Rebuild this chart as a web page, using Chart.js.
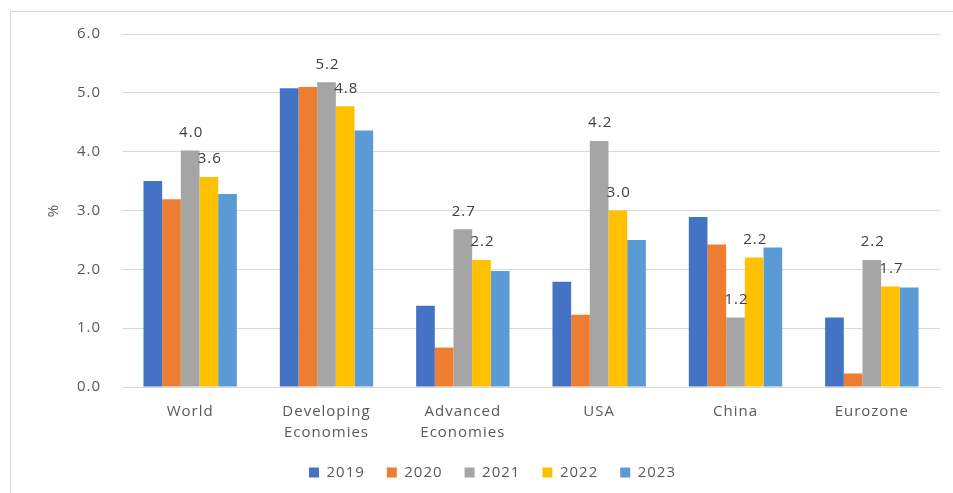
<!DOCTYPE html>
<html>
<head>
<meta charset="utf-8">
<script src="https://cdn.jsdelivr.net/npm/chart.js@4/dist/chart.umd.min.js"></script>
<style>
  html, body { margin:0; padding:0; background:#fff; }
  #wrap { position:relative; width:953px; height:493px; overflow:hidden; }
  #frame { position:absolute; left:10px; top:11px; width:960px; height:500px; border:1px solid #d9d9d9; }
  #chartGrowth { position:absolute; left:0; top:0; }
</style>
</head>
<body>
<div id="wrap">
  <div id="frame"></div>
  <canvas id="chartGrowth" width="953" height="493"></canvas>
</div>
<script>
/* ----------------- Data ----------------- */
const categories = ['World', ['Developing', 'Economies'], ['Advanced', 'Economies'], 'USA', 'China', 'Eurozone'];
const years = ['2019', '2020', '2021', '2022', '2023'];
const colors = ['#4472C4', '#ED7D31', '#A5A5A5', '#FFC000', '#5B9BD5'];

const v2019 = [3.5, 5.08, 1.38, 1.79, 2.89, 1.18];
const v2020 = [3.19, 5.1, 0.67, 1.23, 2.42, 0.23];
const v2021 = [4.02, 5.18, 2.68, 4.18, 1.18, 2.16];
const v2022 = [3.57, 4.77, 2.16, 3.0, 2.2, 1.71];
const v2023 = [3.28, 4.36, 1.97, 2.5, 2.37, 1.69];

const yTicks = [0, 1, 2, 3, 4, 5, 6];
const labelledSeries = [2, 3]; // only 2021 & 2022 have data labels

const seriesValues = [v2019, v2020, v2021, v2022, v2023];
const FONT = "'Open Sans', sans-serif";
const TXT = '#595959';
const LS = '1px';

/* ----------------- Helpers ----------------- */
function spacing(chart){ chart.ctx.letterSpacing = LS; }

const spacingPlugin = {
  id: 'spacing',
  beforeUpdate: spacing,
  beforeLayout: spacing,
  beforeDraw: spacing
};

const barLabels = {
  id: 'barLabels',
  afterDatasetsDraw(chart){
    const ctx = chart.ctx;
    ctx.save();
    ctx.letterSpacing = LS;
    ctx.font = '15px ' + FONT;
    ctx.fillStyle = '#404040';
    ctx.textAlign = 'center';
    ctx.textBaseline = 'middle';
    labelledSeries.forEach(i => {
      const meta = chart.getDatasetMeta(i);
      meta.data.forEach((bar, j) => {
        const val = chart.data.datasets[i].data[j];
        ctx.fillText(val.toFixed(1), bar.x + 1, bar.y - 18);
      });
    });
    ctx.restore();
  }
};

/* ----------------- Chart ----------------- */
const ctx = document.getElementById('chartGrowth');
new Chart(ctx, {
  type: 'bar',
  data: {
    labels: categories,
    datasets: years.map((y, i) => ({
      label: y,
      data: seriesValues[i],
      backgroundColor: colors[i],
      borderWidth: 0,
      categoryPercentage: 0.685,
      barPercentage: 1.0
    }))
  },
  options: {
    responsive: false,
    animation: false,
    layout: { padding: { left: 45, right: 13, top: 34, bottom: 3 } },
    plugins: {
      tooltip: { enabled: false },
      legend: {
        position: 'bottom',
        labels: {
          boxWidth: 10, boxHeight: 10, padding: 22,
          color: TXT, font: { family: FONT, size: 15 }
        }
      }
    },
    scales: {
      x: {
        grid: { display: false },
        border: { color: '#d9d9d9' },
        ticks: { color: TXT, font: { family: FONT, size: 15, lineHeight: 1.4 }, padding: 6, maxRotation: 0, autoSkip: false },
        afterFit(scale){ scale.height = 56; }
      },
      y: {
        min: 0, max: 6,
        afterBuildTicks(scale){ scale.ticks = yTicks.map(v => ({ value: v })); },
        grid: { color: '#d9d9d9', drawTicks: false },
        border: { display: false },
        ticks: { color: TXT, font: { family: FONT, size: 15 }, padding: 21, callback: v => v.toFixed(1) },
        title: { display: true, text: '%', color: TXT, font: { family: FONT, size: 15 }, padding: 0 },
        afterFit(scale){ scale.width = 77; }
      }
    }
  },
  plugins: [spacingPlugin, barLabels]
});
</script>
</body>
</html>
